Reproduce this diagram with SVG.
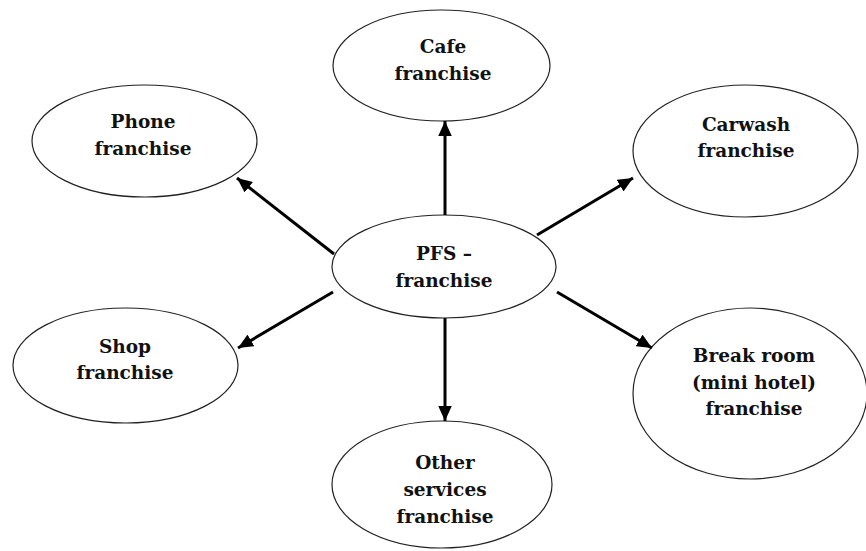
<svg xmlns="http://www.w3.org/2000/svg" width="866" height="551" viewBox="0 0 866 551">
<style>
.node ellipse{fill:#fff;stroke:#222;stroke-width:1.2}
.node text{font-family:"DejaVu Serif","Liberation Serif",serif;font-weight:bold;font-size:18.5px;fill:#111;text-anchor:middle}
.conn line{stroke:#000;stroke-width:3}
</style>
<defs>
<marker id="ah" viewBox="0 0 10 10" refX="10" refY="5" markerWidth="5" markerHeight="4.5" preserveAspectRatio="none" markerUnits="strokeWidth" orient="auto">
<path d="M0,0 L10,5 L0,10 z" fill="#000"/>
</marker>
</defs>
<rect width="866" height="551" fill="#fff"/>
<g id="cafe" class="node">
<ellipse cx="441.5" cy="65.5" rx="108.5" ry="55.5"/>
<text x="443" y="53">Cafe</text>
<text x="443" y="80">franchise</text>
</g>
<g id="phone" class="node">
<ellipse cx="144.5" cy="141" rx="112.5" ry="56"/>
<text x="143" y="128">Phone</text>
<text x="143" y="155">franchise</text>
</g>
<g id="carwash" class="node">
<ellipse cx="745.5" cy="151" rx="112.5" ry="66"/>
<text x="746" y="131">Carwash</text>
<text x="746" y="157">franchise</text>
</g>
<g id="shop" class="node">
<ellipse cx="125.5" cy="365.5" rx="112.5" ry="57.5"/>
<text x="125" y="353">Shop</text>
<text x="125" y="379">franchise</text>
</g>
<g id="breakroom" class="node">
<ellipse cx="750" cy="393.5" rx="117" ry="85.5"/>
<text x="754" y="362">Break room</text>
<text x="754" y="389">(mini hotel)</text>
<text x="754" y="415">franchise</text>
</g>
<g id="other" class="node">
<ellipse cx="442" cy="484.5" rx="110" ry="63.5"/>
<text x="445" y="469">Other</text>
<text x="445" y="496">services</text>
<text x="445" y="523">franchise</text>
</g>
<g id="pfs" class="node">
<ellipse cx="444" cy="266.5" rx="112" ry="51.5"/>
<text x="444" y="260">PFS –</text>
<text x="444" y="287">franchise</text>
</g>
<g id="connectors" class="conn">
<line x1="445" y1="215" x2="445" y2="121" marker-end="url(#ah)"/>
<line x1="334" y1="254" x2="237" y2="178" marker-end="url(#ah)"/>
<line x1="537" y1="235" x2="633" y2="178" marker-end="url(#ah)"/>
<line x1="333" y1="292" x2="238" y2="348" marker-end="url(#ah)"/>
<line x1="557" y1="292" x2="652" y2="348" marker-end="url(#ah)"/>
<line x1="445" y1="318" x2="445" y2="421" marker-end="url(#ah)"/>
</g>
</svg>
